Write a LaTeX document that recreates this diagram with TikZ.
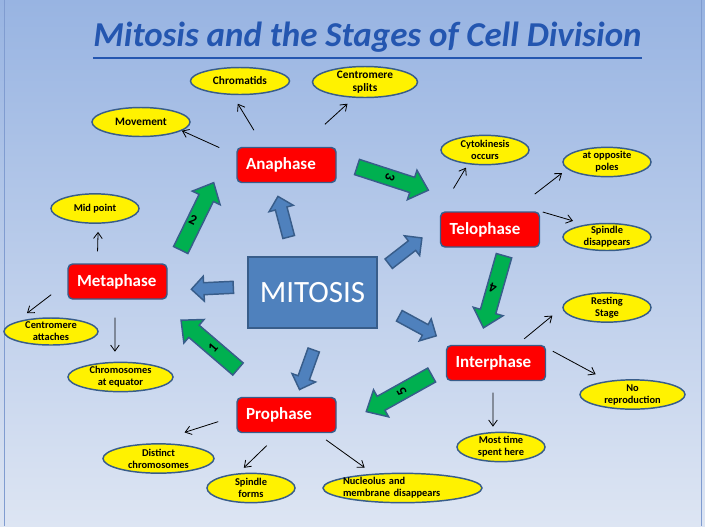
\documentclass[tikz,border=0pt]{standalone}
\usepackage{fontspec}
\setmainfont{Carlito}
\usetikzlibrary{shapes.geometric,arrows.meta}

\definecolor{bgtop}{RGB}{152,180,226}
\definecolor{bgbottom}{RGB}{221,229,243}
\definecolor{slideedge}{RGB}{128,156,208}
\definecolor{edgeblue}{RGB}{56,93,138}
\definecolor{coreblue}{RGB}{79,129,189}
\definecolor{stepgreen}{RGB}{0,176,80}
\definecolor{titleblue}{RGB}{36,86,176}

\tikzset{
  phase/.style={rectangle, rounded corners=3.5pt, draw=edgeblue, line width=1.1pt, fill=red, text=white,
    font=\fontsize{12.75}{14}\selectfont\bfseries, minimum height=26.25pt, text width=60.75pt,
    inner xsep=6.75pt, inner ysep=0pt, align=left},
  core/.style={rectangle, draw=edgeblue, line width=1.1pt, fill=coreblue, text=white,
    font=\fontsize{23.25}{26}\selectfont, minimum width=96.75pt, minimum height=53.25pt},
  bubble/.style={ellipse, draw=edgeblue, line width=1.1pt, fill=yellow, inner xsep=0pt, inner ysep=-1.5pt,
    minimum width=66pt, minimum height=22pt, align=center, font=\fontsize{7.8}{8.9}\selectfont\bfseries},
  bigbubble/.style={bubble, font=\fontsize{8.5}{9.3}\selectfont\bfseries},
  pointer/.style={line width=0.6pt, -{Straight Barb[length=4.5pt,width=6.5pt]}},
  greenarrow/.style={draw=edgeblue, line width=1.1pt, fill=stepgreen},
  bluearrow/.style={draw=edgeblue, line width=1.1pt, fill=coreblue},
  stepno/.style={font=\fontsize{10.5}{12}\selectfont\bfseries, inner sep=0pt}
}

\begin{document}
\begin{tikzpicture}[x=0.75pt,y=0.75pt,yscale=-1,xscale=1]
\useasboundingbox (0,0) rectangle (705,526);

%Slide background
\shade[top color=bgtop, bottom color=bgbottom] (0,0) rectangle (705,526);
\draw[slideedge, line width=0.75pt] (4,0) -- (4,526);
\draw[slideedge, line width=0.75pt] (701.5,0) -- (701.5,526);

% Title
\node[font=\fontsize{26.2}{30}\selectfont\bfseries\itshape, text=titleblue, inner sep=0pt, anchor=base] (title) at (367.5,46.5) {Mitosis and the Stages of Cell Division};
\draw[titleblue, line width=1.5pt] (title.south west) ++(0,5) coordinate (uline) -- (title.south east |- uline);

%Shape: Up Arrow (green steps)
\draw[greenarrow, shift={(238,369)}, rotate=-139.4] (0,-8) -- (58,-8) -- (58,-15.5) -- (75,0) -- (58,15.5) -- (58,8) -- (0,8) -- cycle;
\draw[greenarrow, shift={(180.7,250)}, rotate=-63.9] (0,-8) -- (58,-8) -- (58,-15.5) -- (75,0) -- (58,15.5) -- (58,8) -- (0,8) -- cycle;
\draw[greenarrow, shift={(357,167)}, rotate=18] (0,-8) -- (58,-8) -- (58,-15.5) -- (75,0) -- (58,15.5) -- (58,8) -- (0,8) -- cycle;
\draw[greenarrow, shift={(504,255.7)}, rotate=105.9] (0,-8) -- (58,-8) -- (58,-15.5) -- (75,0) -- (58,15.5) -- (58,8) -- (0,8) -- cycle;
\draw[greenarrow, shift={(431.7,375)}, rotate=150.8] (0,-8) -- (58,-8) -- (58,-15.5) -- (75,0) -- (58,15.5) -- (58,8) -- (0,8) -- cycle;

%Shape: Right Arrow (blue, out of the centre)
\draw[bluearrow, shift={(288.7,237)}, rotate=-104.8] (0,-6) -- (29.5,-6) -- (29.5,-12.5) -- (42,0) -- (29.5,12.5) -- (29.5,6) -- (0,6) -- cycle;
\draw[bluearrow, shift={(233.3,287.3)}, rotate=177.3] (0,-6) -- (29.5,-6) -- (29.5,-12.5) -- (42,0) -- (29.5,12.5) -- (29.5,6) -- (0,6) -- cycle;
\draw[bluearrow, shift={(388.7,263.7)}, rotate=-37.8] (0,-6) -- (29.5,-6) -- (29.5,-12.5) -- (42,0) -- (29.5,12.5) -- (29.5,6) -- (0,6) -- cycle;
\draw[bluearrow, shift={(399.3,315.8)}, rotate=28.5] (0,-6) -- (29.5,-6) -- (29.5,-12.5) -- (42,0) -- (29.5,12.5) -- (29.5,6) -- (0,6) -- cycle;
\draw[bluearrow, shift={(313.7,350)}, rotate=109.7] (0,-6) -- (29.5,-6) -- (29.5,-12.5) -- (42,0) -- (29.5,12.5) -- (29.5,6) -- (0,6) -- cycle;

% Step numbers
\node[stepno, rotate=49.4] (n1) at (213,348) {1};
\node[stepno, rotate=-26.1] (n2) at (193,220) {2};
\node[stepno, rotate=-108] (n3) at (390,177) {3};
\node[stepno, rotate=164.1] (n4) at (493,288) {4};
\node[stepno, rotate=119.2] (n5) at (401.7,391.7) {5};

% Centre
\node[core] (mitosis) at (312.5,292.5) {MITOSIS};

% Phases
\node[phase] (ana) at (286.5,165) {Anaphase};
\node[phase] (telo) at (490,229.5) {Telophase};
\node[phase] (meta) at (117.5,281.5) {Metaphase};
\node[phase] (inter) at (496,363) {Interphase};
\node[phase] (pro) at (286.5,415) {Prophase};

% Notes
\node[bigbubble, minimum width=74.25pt, minimum height=20.25pt] (chrom) at (240,81) {Chromatids};
\node[bigbubble, minimum width=78.75pt, minimum height=23.25pt] (csplit) at (365,82) {Centromere\\splits};
\node[bigbubble, minimum width=73.5pt, minimum height=21.75pt] (mov) at (141,122) {Movement};
\node[bubble] (cyto) at (485,150) {Cytokinesis\\occurs};
\node[bubble] (opp) at (607,162) {at opposite\\poles};
\node[bubble, minimum height=20.25pt] (sdis) at (607,237) {Spindle\\disappears};
\node[bubble] (mid) at (95,208.5) {Mid point};
\node[bubble, minimum width=70.5pt, minimum height=20.25pt] (catt) at (51,331.5) {Centromere\\attaches};
\node[bubble, minimum width=78.75pt] (equ) at (120.5,377) {Chromosomes\\at equator};
\node[bubble] (rest) at (607,307.5) {Resting\\Stage};
\node[bubble, minimum width=78.75pt] (norep) at (632.5,394.5) {No\\reproduction};
\node[bubble] (most) at (501,447) {Most time\\spent here};
\node[bubble, minimum width=83.25pt] (dist) at (158.5,458.5) {Distinct\\chromosomes};
\node[bubble] (sform) at (251,488) {Spindle\\forms};
\node[bubble, minimum width=119.25pt, text width=89.25pt, inner xsep=-3pt, align=left] (nucl) at (402.5,488) {Nucleolus and\\membrane disappears};

%Straight Lines
\draw[pointer, shorten <=14pt] (ana.169) -- (mov.-12);
\draw[pointer, shorten <=14.5pt, shorten >=7.6pt] (ana.141) -- (chrom.-118);
\draw[pointer, shorten <=25pt, shorten >=6.5pt] (ana.53) -- (csplit.-125);
\draw[pointer, shorten <=20pt, shorten >=3pt] (telo.north west) -- (cyto.-140);
\draw[pointer, shorten <=21pt, shorten >=4.9pt] (telo.39) -- (opp.190);
\draw[pointer, shorten <=2pt, shorten >=9.7pt] (telo.north east) -- (sdis.150);
\draw[pointer, shorten <=9pt, shorten >=6pt] (meta.138) -- (mid.-78);
\draw[pointer, shorten <=15.2pt, shorten >=10.8pt] (meta.181) -- (catt.165);
\draw[pointer, shorten <=13.5pt, shorten >=7.5pt] (meta.-98) -- (equ.110);
\draw[pointer, shorten <=7pt, shorten >=9.6pt] (inter.41.5) -- (rest.west);
\draw[pointer, shorten <=5.5pt, shorten >=10.4pt] (inter.17.4) -- (norep.151);
\draw[pointer, shorten <=8.6pt, shorten >=3.9pt] (inter.-99.7) -- (most.118.5);
\draw[pointer, shorten <=14.2pt, shorten >=26.9pt] (pro.181.4) -- (dist.118);
\draw[pointer, shorten <=13.3pt, shorten >=5.9pt] (pro.-111.8) -- (sform.131);
\draw[pointer, shorten <=8.5pt, shorten >=7.8pt] (pro.-31.7) -- (nucl.154);

\end{tikzpicture}
\end{document}
